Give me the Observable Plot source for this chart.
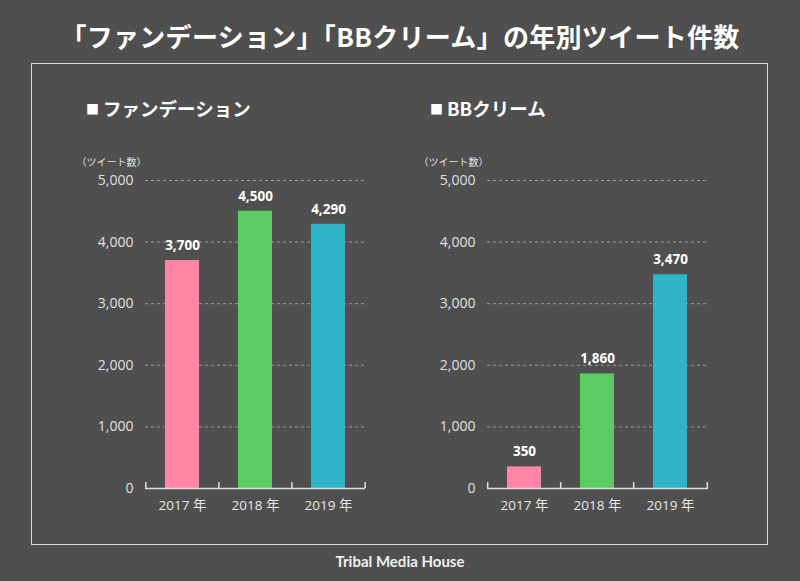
<!DOCTYPE html>
<html><head><meta charset="utf-8">
<script src="https://cdn.jsdelivr.net/npm/d3@7"></script>
<script src="https://cdn.jsdelivr.net/npm/@observablehq/plot@0.6"></script>
<style>
html,body{margin:0;padding:0;background:#4f4f4f;}
#wrap{position:relative;width:800px;height:581px;background:#4f4f4f;overflow:hidden;font-family:"Noto Sans CJK JP","Noto Sans",sans-serif;color:#fff;}
#title{position:absolute;left:0;width:800px;top:17px;text-align:center;font-size:26px;font-weight:700;letter-spacing:0.3px;}
#box{position:absolute;left:31px;top:63px;width:735px;height:480px;border:1.5px solid #d8d8d8;}
.sub{position:absolute;top:95px;font-size:18.5px;font-weight:700;}
.sq{font-size:13px;vertical-align:2px;margin-right:4px;}
.chart{position:absolute;top:150px;}
#foot{position:absolute;left:0;width:800px;top:552px;text-align:center;font-family:Lato,sans-serif;font-weight:700;font-size:15px;color:#f0f0f0;}
</style></head>
<body><div id="wrap">
<div id="title">「ファンデーション」「BBクリーム」の年別ツイート件数</div>
<div id="box"></div>
<div class="sub" style="left:86px"><span class="sq">■</span>ファンデーション</div>
<div class="sub" style="left:430px"><span class="sq">■</span>BBクリーム</div>
<div class="chart" id="c1" style="left:60px"></div>
<div class="chart" id="c2" style="left:402px"></div>
<div id="foot">Tribal Media House</div>
</div>
<script>
const years = ["2017 年", "2018 年", "2019 年"];
const foundation = [3700, 4500, 4290];
const bbcream = [350, 1860, 3470];
const colors = ["#ff86a6", "#5bcb63", "#30b4c8"];
const yTicks = [0, 1000, 2000, 3000, 4000, 5000];
const yLabel = "（ツイート数）";

function makeChart(values, width) {
  const data = years.map((y, i) => ({year: y, value: values[i]}));
  const mL = 85, mR = 20, mT = 30, mB = 42, H = 380;
  const innerW = width - mL - mR;
  const step = innerW / years.length;
  const innerH = H - mT - mB;
  return Plot.plot({
    width, height: H,
    marginLeft: mL, marginRight: mR, marginTop: mT, marginBottom: mB,
    style: {background: "transparent", color: "#e8e8e8", fontFamily: "'Open Sans', 'Noto Sans CJK JP', sans-serif", fontSize: "14px", overflow: "visible"},
    x: {domain: years, paddingInner: 0.53, paddingOuter: 0.265, label: null},
    y: {domain: [0, 5000], label: null},
    color: {domain: years, range: colors},
    marks: [
      Plot.ruleY(yTicks.filter(d => d > 0), {y: d => d, stroke: "#9a9a9a", strokeDasharray: "3,3", strokeWidth: 1}),
      Plot.barY(data, {x: "year", y: "value", fill: "year"}),
      Plot.ruleY([0], {stroke: "#e0e0e0", strokeWidth: 1.5}),
      Plot.ruleX(years, {x: d => d, dx: -step / 2, insetTop: innerH - 6, stroke: "#e0e0e0", strokeWidth: 1.5}),
      Plot.ruleX([years[years.length - 1]], {x: d => d, dx: step / 2, insetTop: innerH - 6, stroke: "#e0e0e0", strokeWidth: 1.5}),
      Plot.text(data, {x: "year", y: "value", text: d => d3.format(",")(d.value), dy: -15, fill: "#fff", fontWeight: 700, fontSize: 13.5}),
      Plot.axisY({ticks: yTicks, tickSize: 0, tickPadding: 12, tickFormat: d3.format(","), fontSize: 14, color: "#e0e0e0", label: null}),
      Plot.axisX({tickSize: 0, tickPadding: 12, fontSize: 13.5, color: "#e8e8e8", label: null}),
      Plot.text([yLabel], {frameAnchor: "top-left", text: d => d, dx: -mL + 16, dy: -22, fontSize: 10, fill: "#e0e0e0", fontFamily: "'Noto Sans CJK JP', sans-serif", textAnchor: "start"})
    ]
  });
}
document.getElementById("c1").appendChild(makeChart(foundation, 325));
document.getElementById("c2").appendChild(makeChart(bbcream, 326));
</script>
</body></html>
